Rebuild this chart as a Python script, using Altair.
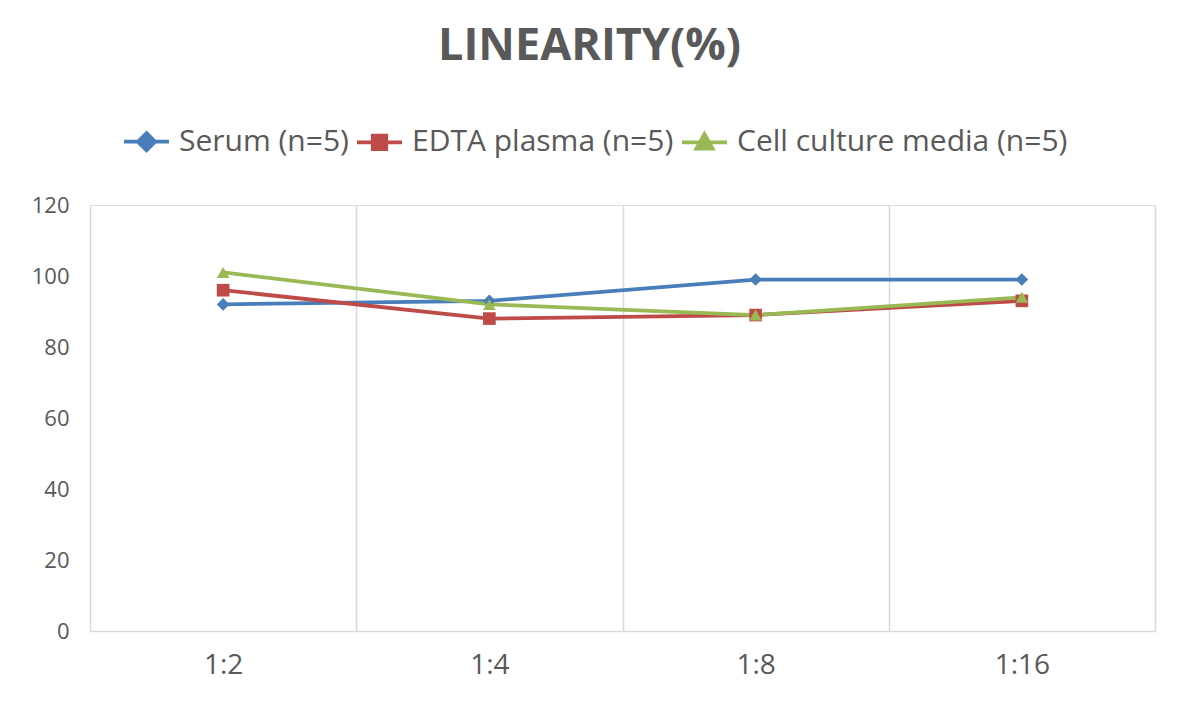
import altair as alt
import pandas as pd

dilutions = ["1:2", "1:4", "1:8", "1:16"]
series = ["Serum (n=5)", "EDTA plasma (n=5)", "Cell culture media (n=5)"]
serum = [92, 93, 99, 99]
edta = [96, 88, 89, 93]
cell = [101, 92, 89, 94]
colors = ["#4A7EBB", "#BE4B48", "#98B954"]
marker_shapes = ["diamond", "square", "triangle-up"]
y_ticks = [0, 20, 40, 60, 80, 100, 120]

rows = []
for name, vals in zip(series, [serum, edta, cell]):
    for d, v in zip(dilutions, vals):
        rows.append({"dilution": d, "value": v, "series": name})
df = pd.DataFrame(rows)

# legend symbols: line with marker
legend_paths = [
    "M-1,0L1,0M0,-0.38L0.38,0L0,0.38L-0.38,0Z",
    "M-1,0L1,0M-0.3,-0.3L0.3,-0.3L0.3,0.3L-0.3,0.3Z",
    "M-1,0L1,0M0,-0.36L0.36,0.28L-0.36,0.28Z",
]

FONT = "Open Sans"
GRAY = "#595959"

x = alt.X(
    "dilution:N",
    sort=dilutions,
    title=None,
    scale=alt.Scale(paddingInner=0, paddingOuter=0),
    axis=alt.Axis(
        labelAngle=0,
        labelFontSize=28,
        labelColor=GRAY,
        labelFont=FONT,
        labelPadding=20,
        ticks=False,
        domainColor="#D9D9D9",
        domainWidth=1.5,
        grid=True,
        gridColor="#D9D9D9",
        gridWidth=1.5,
        tickBand="extent",
    ),
)
y = alt.Y(
    "value:Q",
    title=None,
    scale=alt.Scale(domain=[0, 120], nice=False, zero=True),
    axis=alt.Axis(
        values=y_ticks,
        labelFontSize=22,
        labelColor=GRAY,
        labelFont=FONT,
        labelPadding=21,
        ticks=False,
        domain=False,
        grid=False,
    ),
)

color_scale = alt.Scale(domain=series, range=colors)

lines = alt.Chart(df).mark_line(strokeWidth=3.75).encode(
    x=x,
    y=y,
    color=alt.Color("series:N", sort=series, scale=color_scale, legend=None),
)

point_layers = []
for name, shp in zip(series, marker_shapes):
    point_layers.append(
        alt.Chart(df)
        .transform_filter(alt.datum.series == name)
        .mark_point(filled=True, size=160, opacity=1, shape=shp)
        .encode(
            x=x,
            y=y,
            color=alt.Color("series:N", sort=series, scale=color_scale, legend=None),
        )
    )

legend_props = dict(
    title=None,
    orient="none",
    direction="horizontal",
    legendX=32,
    legendY=-88,
    labelFontSize=30,
    labelColor=GRAY,
    labelFont=FONT,
    labelOffset=8,
    labelLimit=0,
    columnPadding=0,
    symbolSize=2025,
    symbolStrokeWidth=3.75,
    symbolOpacity=1,
)

legend_layer = (
    alt.Chart(df)
    .mark_point(filled=True)
    .encode(
        x=x,
        y=y,
        opacity=alt.value(0),
        fill=alt.Fill("series:N", sort=series, scale=color_scale, legend=alt.Legend(**legend_props)),
        stroke=alt.Stroke("series:N", sort=series, scale=color_scale, legend=alt.Legend(**legend_props)),
        shape=alt.Shape(
            "series:N",
            sort=series,
            scale=alt.Scale(domain=series, range=legend_paths),
            legend=alt.Legend(**legend_props),
        ),
    )
)

chart = (
    alt.layer(legend_layer, lines, *point_layers)
    .properties(
        width=1065,
        height=426,
        autosize=alt.AutoSizeParams(type="none"),
        padding={"left": 82, "top": 197, "right": 16, "bottom": 66},
        title=alt.TitleParams(
            "LINEARITY(%)",
            font=FONT,
            fontSize=45,
            fontWeight="bold",
            color=GRAY,
            anchor="middle",
            dx=-33,
            offset=48,
        ),
    )
    .configure_view(stroke=None)
    .configure(background="white")
)

chart.save("out.html", embed_options={"renderer": "svg", "actions": False})
